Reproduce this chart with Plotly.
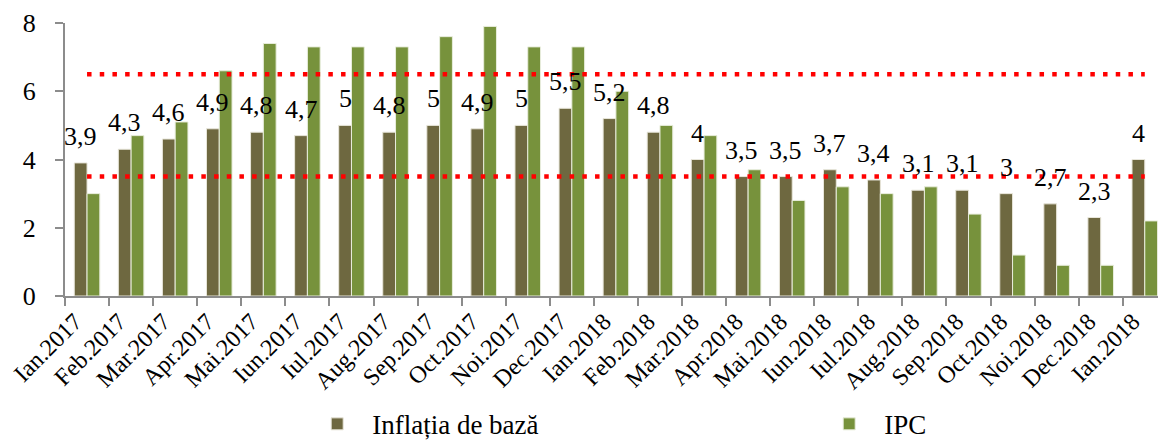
import plotly.graph_objects as go

categories = ["Ian.2017", "Feb.2017", "Mar.2017", "Apr.2017", "Mai.2017", "Iun.2017",
              "Iul.2017", "Aug.2017", "Sep.2017", "Oct.2017", "Noi.2017", "Dec.2017",
              "Ian.2018", "Feb.2018", "Mar.2018", "Apr.2018", "Mai.2018", "Iun.2018",
              "Iul.2018", "Aug.2018", "Sep.2018", "Oct.2018", "Noi.2018", "Dec.2018",
              "Ian.2018"]
inflatia_baza = [3.9, 4.3, 4.6, 4.9, 4.8, 4.7, 5, 4.8, 5, 4.9, 5, 5.5, 5.2, 4.8, 4,
                 3.5, 3.5, 3.7, 3.4, 3.1, 3.1, 3, 2.7, 2.3, 4]
ipc = [3.0, 4.7, 5.1, 6.6, 7.4, 7.3, 7.3, 7.3, 7.6, 7.9, 7.3, 7.3, 6.0, 5.0, 4.7,
       3.7, 2.8, 3.2, 3.0, 3.2, 2.4, 1.2, 0.9, 0.9, 2.2]
lower_band = 3.5
upper_band = 6.5
y_ticks = [0, 2, 4, 6, 8]

FONT = "Liberation Serif"
DARK = "#6E6840"
GREEN = "#77923C"

x = list(range(len(categories)))

fig = go.Figure()
fig.add_trace(go.Bar(x=x, y=inflatia_baza, name="Inflația de bază",
                     marker=dict(color=DARK, line=dict(color="#E8E6DA", width=1))))
fig.add_trace(go.Bar(x=x, y=ipc, name="IPC",
                     marker=dict(color=GREEN, line=dict(color="#E8EDDC", width=1))))
for band in (lower_band, upper_band):
    fig.add_trace(go.Scatter(x=[x[0], x[-1]], y=[band, band], mode="lines",
                             line=dict(color="#FF0000", width=4.5, dash="4.5px,8.2px"),
                             showlegend=False, hoverinfo="skip"))

for i, v in enumerate(inflatia_baza):
    fig.add_annotation(x=x[i], y=v, text=str(v).replace(".", ","), showarrow=False,
                       xshift=-6.4, yanchor="bottom", yshift=10,
                       font=dict(family=FONT, size=26, color="#000000"))

fig.update_layout(
    width=1158, height=443,
    margin=dict(l=65, r=0, t=23, b=147, autoexpand=False),
    paper_bgcolor="white", plot_bgcolor="white",
    barmode="group", bargap=0.42, bargroupgap=0,
    separators=", ",
    showlegend=True,
    legend=dict(orientation="h", x=0.217, xanchor="left", y=-0.47, yanchor="middle",
                font=dict(family=FONT, size=27, color="#000000"),
                entrywidth=437, entrywidthmode="pixels", itemwidth=60),
    font=dict(family=FONT, color="#000000"),
)
fig.update_xaxes(
    automargin=False,
    range=[-0.5, 24.3], tickmode="array", tickvals=x, ticktext=categories,
    tickangle=-45, ticks="", showgrid=False, zeroline=False,
    showline=True, linecolor="#8C8C8C", linewidth=2, ticklabelshift=-12,
    tickfont=dict(family=FONT, size=24, color="#000000"),
    minor=dict(tickmode="array", tickvals=[i - 0.5 for i in x] + [x[-1] + 0.5],
               ticks="outside", ticklen=8, tickwidth=2, tickcolor="#8C8C8C", showgrid=False),
)
fig.update_yaxes(
    automargin=False,
    range=[0, 8], tickmode="array", tickvals=y_ticks, ticks="outside", ticklen=8,
    tickwidth=2, tickcolor="#8C8C8C", showgrid=False, zeroline=False,
    showline=True, linecolor="#8C8C8C", linewidth=2, ticklabelstandoff=14,
    tickfont=dict(family=FONT, size=26, color="#000000"),
)

fig.write_html("out.html", config={"displayModeBar": False},
               post_script="document.body.style.margin='0';document.body.style.overflow='hidden';")
